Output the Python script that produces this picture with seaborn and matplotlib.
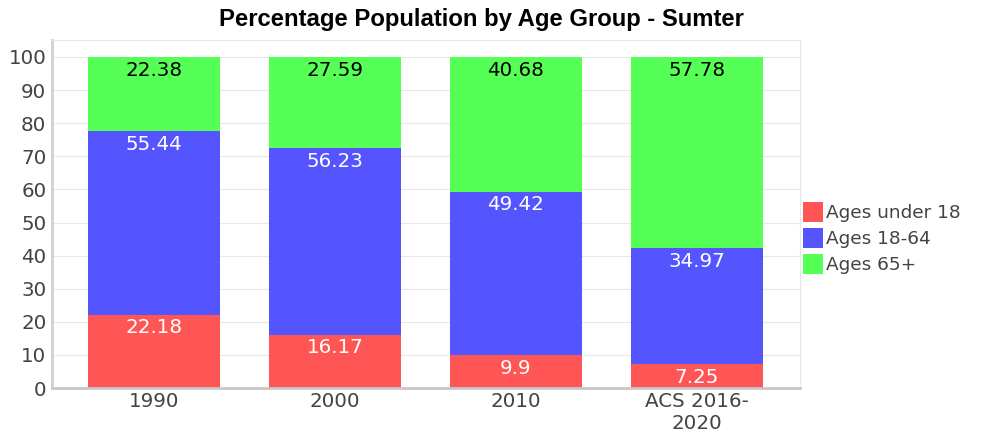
import matplotlib
matplotlib.use("Agg")
import matplotlib.pyplot as plt
import seaborn as sns
import numpy as np

# data
periods = ["1990", "2000", "2010", "ACS 2016-\n2020"]
under_18 = [22.18, 16.17, 9.9, 7.25]
ages_18_64 = [55.44, 56.23, 49.42, 34.97]
ages_65_plus = [22.38, 27.59, 40.68, 57.78]
series_names = ["Ages under 18", "Ages 18-64", "Ages 65+"]
colors = ["#FF5555", "#5555FF", "#55FF55"]
text_colors = ["white", "white", "black"]

sns.set_style("white")
plt.rcParams["font.family"] = ["DejaVu Sans"]

fig = plt.figure(figsize=(9.9, 4.36), dpi=100)
ax = fig.add_axes([0.0525, 0.110, 0.7555, 0.798])

bottom = np.zeros(len(periods))
for name, vals, col, tcol in zip(series_names, [under_18, ages_18_64, ages_65_plus], colors, text_colors):
    sns.barplot(x=periods, y=vals, bottom=bottom, color=col, width=0.73,
                label=name, ax=ax, linewidth=0, saturation=1)
    for i, v in enumerate(vals):
        ax.annotate(f"{v:g}", (i, bottom[i] + v), xytext=(0, -9.5), textcoords="offset points",
                    ha="center", va="center", fontsize=14.3, color=tcol)
    bottom += np.array(vals)

ax.set_xlim(-0.565, 3.57)
ax.set_ylim(0, 105.1)
ax.set_yticks(range(0, 101, 10))
ax.yaxis.grid(True, color="#e8e8e8", linewidth=0.8)
ax.set_axisbelow(True)
ax.tick_params(axis="both", labelsize=14.3, colors="#444444", length=0)
ax.tick_params(axis="y", pad=4)
ax.tick_params(axis="x", pad=3)
for s in ["top", "right"]:
    ax.spines[s].set_color("#e6e6e6")
ax.spines["left"].set_color("#d0d0d0")
ax.spines["left"].set_linewidth(2)
ax.spines["bottom"].set_color("#c8c8c8")
ax.spines["bottom"].set_linewidth(2)

handles, labels = ax.get_legend_handles_labels()
fig.legend(handles, labels, loc="center left", bbox_to_anchor=(0.811, 0.454), frameon=False,
           fontsize=13.3, labelcolor="#444444", handlelength=1.1, handleheight=1.25,
           handletextpad=0.15, labelspacing=0.33, borderpad=0, borderaxespad=0)
if ax.get_legend():
    ax.get_legend().remove()

fig.text(0.486, 0.955, "Percentage Population by Age Group - Sumter", ha="center", va="center",
         fontsize=17.2, fontweight="bold", family="Liberation Sans", color="black")

fig.savefig("out.png", dpi=100)
